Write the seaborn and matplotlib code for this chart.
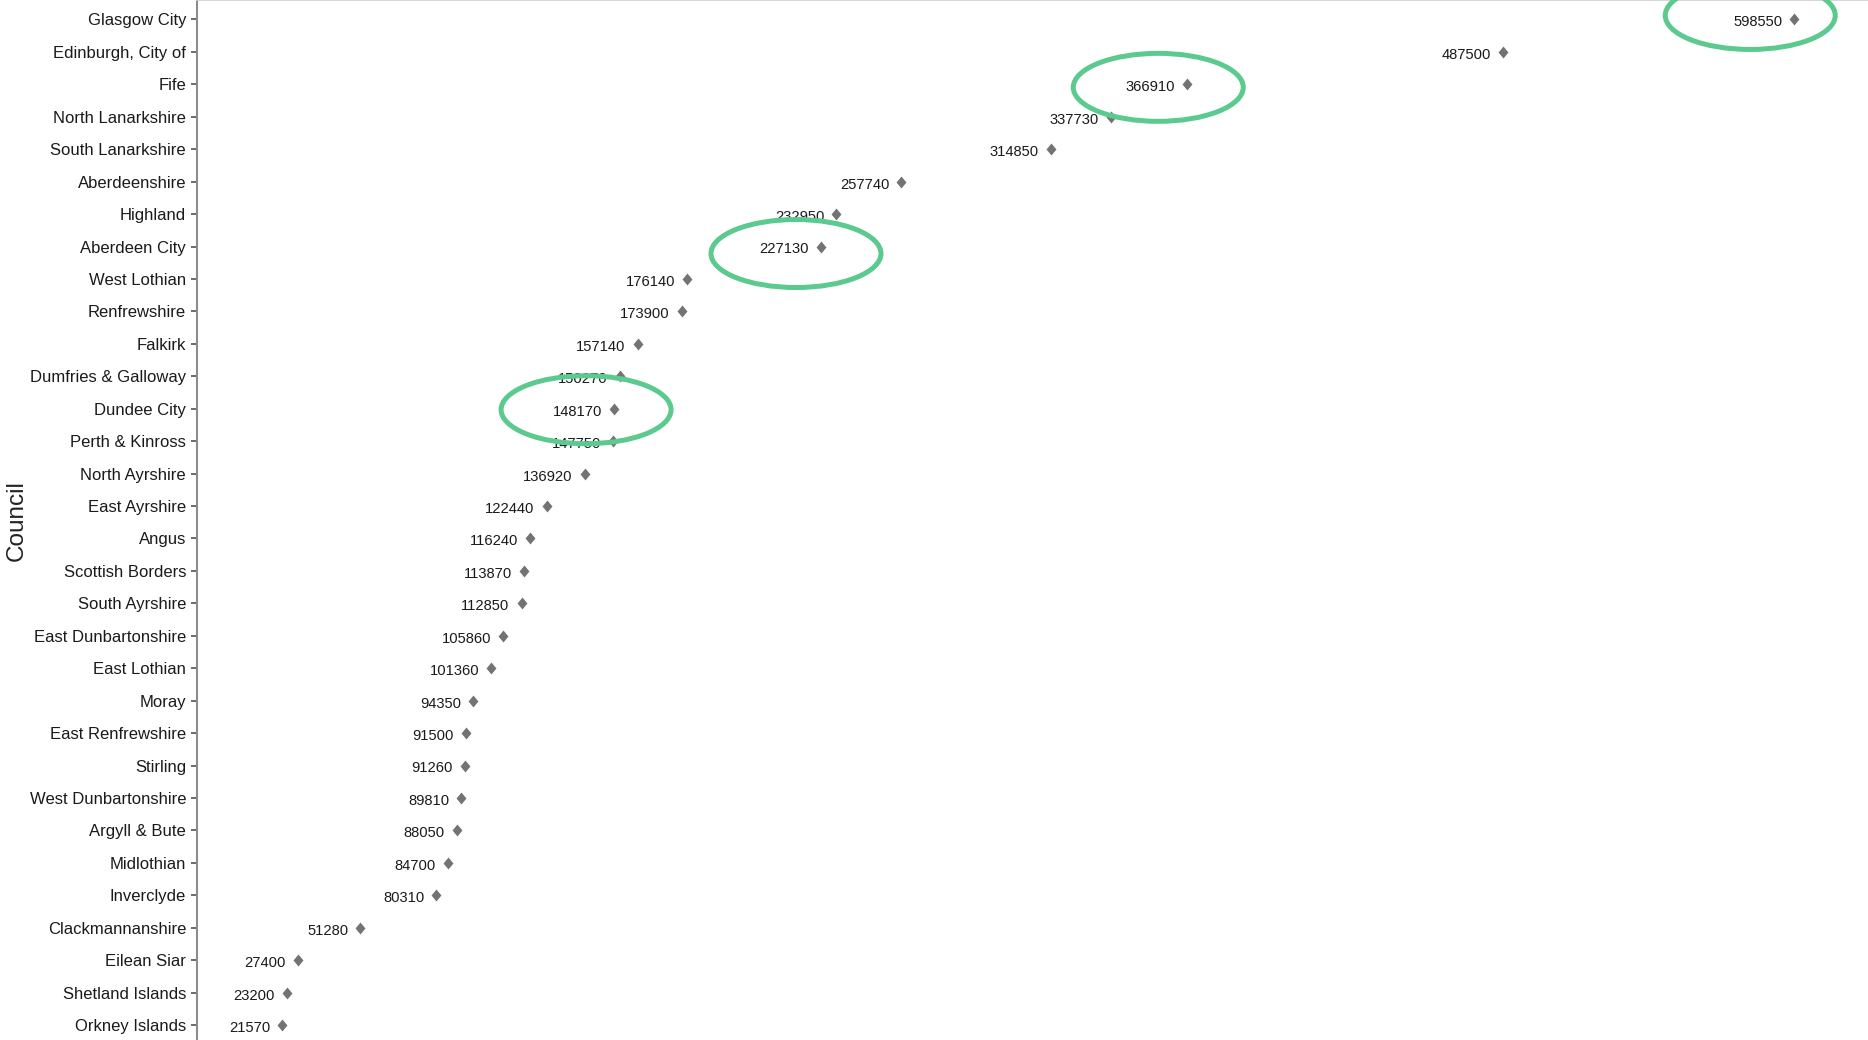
import matplotlib
matplotlib.use("Agg")
import matplotlib.pyplot as plt
import matplotlib.transforms as mtransforms
from matplotlib import font_manager
from matplotlib.patches import Ellipse
import seaborn as sns
import pandas as pd

# ---------------- data ----------------
councils = [
    "Glasgow City", "Edinburgh, City of", "Fife", "North Lanarkshire",
    "South Lanarkshire", "Aberdeenshire", "Highland", "Aberdeen City",
    "West Lothian", "Renfrewshire", "Falkirk", "Dumfries & Galloway",
    "Dundee City", "Perth & Kinross", "North Ayrshire", "East Ayrshire",
    "Angus", "Scottish Borders", "South Ayrshire", "East Dunbartonshire",
    "East Lothian", "Moray", "East Renfrewshire", "Stirling",
    "West Dunbartonshire", "Argyll & Bute", "Midlothian", "Inverclyde",
    "Clackmannanshire", "Eilean Siar", "Shetland Islands", "Orkney Islands",
]
population = [
    598550, 487500, 366910, 337730,
    314850, 257740, 232950, 227130,
    176140, 173900, 157140, 150270,
    148170, 147750, 136920, 122440,
    116240, 113870, 112850, 105860,
    101360, 94350, 91500, 91260,
    89810, 88050, 84700, 80310,
    51280, 27400, 23200, 21570,
]
highlighted = ["Glasgow City", "Fife", "Aberdeen City", "Dundee City"]

df = pd.DataFrame({"Council": councils, "Population": population})

# ---------------- style ----------------
sns.set_theme(style="white")


def has_font(name):
    try:
        font_manager.findfont(font_manager.FontProperties(family=name),
                              fallback_to_default=False)
        return True
    except Exception:
        return False


if has_font("Liberation Sans Narrow"):
    label_family = ["Liberation Sans Narrow", "DejaVu Sans"]
    tick_size, value_size = 14.2, 13.0
else:
    label_family = ["Liberation Sans", "DejaVu Sans"]
    tick_size, value_size = 12.0, 10.6
plt.rcParams["font.family"] = ["Liberation Sans", "DejaVu Sans"]

W, H, DPI = 1868, 1040, 100
fig = plt.figure(figsize=(W / DPI, H / DPI), dpi=DPI)
ax = fig.add_axes([197 / W, -4.5 / H, 1 - 197 / W, 1 + 4.5 / H])

diamond = [(0, 1), (0.83, 0), (0, -1), (-0.83, 0)]
sns.stripplot(data=df, x="Population", y="Council", order=councils,
              orient="h", jitter=False, color="#737373", marker=diamond,
              size=8.6, linewidth=0, ax=ax, zorder=3)

ax.set_xlim(-11000, 626700)
ax.set_ylim(len(councils) - 1 + 0.6, -0.6)

# value labels
for i, (c, v) in enumerate(zip(councils, population)):
    ax.annotate(str(v), xy=(v, i), xytext=(-8.6, -5.0),
                textcoords="offset points", ha="right", va="baseline",
                fontsize=value_size, family=label_family, color="#1a1a1a",
                zorder=4)

# highlight ellipses (pixel offsets / sizes)
ell_offsets = {"Glasgow City": (-44, -4), "Fife": (-29, 3),
               "Aberdeen City": (-25, 7), "Dundee City": (-28, 1)}
for name in highlighted:
    i = councils.index(name)
    v = population[i]
    dx, dy = ell_offsets[name]
    trans = (mtransforms.Affine2D().translate(dx, -dy)
             + mtransforms.ScaledTranslation(v, i, ax.transData))
    ax.add_patch(Ellipse((0, 0), 170, 68, transform=trans, fill=False,
                         edgecolor="#5cc98f", linewidth=3.6, zorder=5,
                         clip_on=False))

# axes styling
ax.set_xticks([])
ax.set_xlabel("")
ax.set_ylabel("Council", fontsize=17.5, color="#222222")
ax.yaxis.set_label_coords(-0.1015, 0.502)
ax.tick_params(axis="y", left=True, length=4.3, width=1.1, color="#444444",
               pad=3.6, labelsize=tick_size, labelcolor="#1a1a1a")
for lab in ax.get_yticklabels():
    lab.set_family(label_family)

for s in ["right", "bottom"]:
    ax.spines[s].set_visible(False)
ax.spines["left"].set_color("#8c8c8c")
ax.spines["left"].set_linewidth(1.5)
ax.spines["top"].set_color("#d0d0d0")
ax.spines["top"].set_linewidth(1.2)

fig.savefig("out.png", dpi=DPI)
